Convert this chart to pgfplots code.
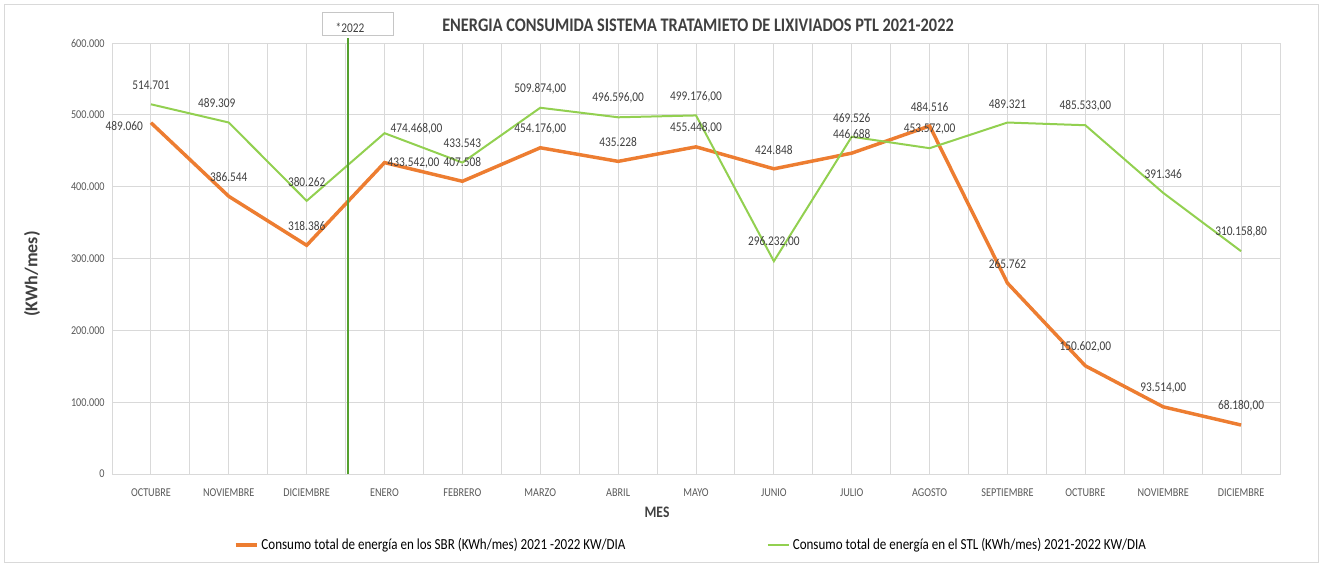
\documentclass[border=0pt]{standalone}
\usepackage{fontspec}
\setmainfont{Carlito}[FakeStretch=0.85]
\newfontfamily\plainfont{Carlito}
\usepackage{pgfplots}
\pgfplotsset{compat=1.18}
\usepackage{pgfplotstable}
\definecolor{sbr}{HTML}{ED7D31}
\definecolor{stl}{HTML}{92D050}
\definecolor{vline}{RGB}{84,160,46}
\definecolor{lab}{HTML}{404040}
\definecolor{tickc}{HTML}{595959}
\definecolor{gridc}{HTML}{D9D9D9}

\pgfplotstableread{
x sbr stl
0 489060 514701
1 386544 489309
2 318386 380262
3 433542 474468
4 407508 433543
5 454176 509874
6 435228 496596
7 455448 499176
8 424848 296232
9 446688 469526
10 484516 453572
11 265762 489321
12 150602 485533
13 93514 391346
14 68180 310158.8
}\datatable

\tikzset{lbl/.style={font=\fontsize{10}{12}\selectfont, text=lab, inner sep=0pt}}
\newcommand{\lb}[2]{\node[lbl,yshift=14.25pt] at (axis cs:#1) {#2};}

\begin{document}
\begin{tikzpicture}
\path[use as bounding box] (0,0) rectangle (993pt,-423.75pt);
\draw[gridc, line width=0.75pt] (3pt,-3pt) rectangle (988.5pt,-421.5pt);
\begin{axis}[
  at={(84pt,-355.5pt)}, anchor=south west,
  scale only axis, width=876pt, height=323.25pt,
  xmin=-0.5, xmax=14.5, ymin=0, ymax=600000,
  xtick={0,...,14}, minor xtick={-0.5,0.5,...,14.5},
  xticklabels={OCTUBRE,NOVIEMBRE,DICIEMBRE,ENERO,FEBRERO,MARZO,ABRIL,MAYO,JUNIO,JULIO,AGOSTO,SEPTIEMBRE,OCTUBRE,NOVIEMBRE,DICIEMBRE},
  ytick={0,100000,200000,300000,400000,500000,600000},
  yticklabels={0,100.000,200.000,300.000,400.000,500.000,600.000},
  scaled y ticks=false,
  xmajorgrids, xminorgrids, ymajorgrids,
  grid style={gridc, line width=0.75pt},
  minor grid style={gridc, line width=0.75pt},
  major tick length=0pt, minor tick length=0pt,
  axis line style={gridc, line width=0.75pt},
  x tick label style={font=\fontsize{9}{10}\selectfont, text=tickc, yshift=-7.5pt},
  y tick label style={font=\fontsize{9}{10}\selectfont, text=tickc, xshift=-2pt},
  clip=false,
  legend style={at={(0.496,-0.165)}, anchor=center, draw=none, fill=none,
    legend columns=2, font=\fontsize{11.5}{13}\selectfont, text=black,
    /tikz/every even column/.append style={column sep=104pt}},
  legend image code/.code={\draw[#1] (0pt,0pt) -- (16pt,0pt);},
]
\addplot[sbr, line width=2.6pt] table[x=x, y=sbr] {\datatable};
\addlegendentry{Consumo total de energía en los SBR (KWh/mes) 2021 -2022 KW/DIA}
\addplot[stl, line width=1.5pt] table[x=x, y=stl] {\datatable};
\addlegendentry{Consumo total de energía en el STL (KWh/mes) 2021-2022 KW/DIA}
\draw[vline, line width=1.5pt] (axis cs:2.53,0) -- (axis cs:2.53,607000);
% STL labels
\lb{0,514701}{514.701}
\node[lbl, xshift=-9pt, yshift=14.6pt] at (axis cs:1,489309) {489.309};
\lb{2,380262}{380.262}
\node[lbl, xshift=24pt, yshift=3pt] at (axis cs:3,474468) {474.468,00};
\lb{4,433543}{433.543}
\lb{5,509874}{509.874,00}
\lb{6,496596}{496.596,00}
\lb{7,499176}{499.176,00}
\lb{8,296232}{296.232,00}
\lb{9,469526}{469.526}
\lb{10,453572}{453.572,00}
\lb{11,489321}{489.321}
\lb{12,485533}{485.533,00}
\lb{13,391346}{391.346}
\lb{14,310158.8}{310.158,80}
% SBR labels
\node[lbl, xshift=-20pt, yshift=-2.25pt] at (axis cs:0,489060) {489.060};
\lb{1,386544}{386.544}
\lb{2,318386}{318.386}
\node[lbl, xshift=21.75pt] at (axis cs:3,433542) {433.542,00};
\lb{4,407508}{407.508}
\lb{5,454176}{454.176,00}
\lb{6,435228}{435.228}
\lb{7,455448}{455.448,00}
\lb{8,424848}{424.848}
\lb{9,446688}{446.688}
\lb{10,484516}{484.516}
\lb{11,265762}{265.762}
\lb{12,150602}{150.602,00}
\lb{13,93514}{93.514,00}
\lb{14,68180}{68.180,00}
\end{axis}
\begin{scope}[x=0.75pt,y=-0.75pt]
\node[font=\bfseries\fontsize{14.4}{16}\selectfont, text=lab] at (698,25) {ENERGIA CONSUMIDA SISTEMA TRATAMIETO DE LIXIVIADOS PTL 2021-2022};
\node[rotate=90, font=\plainfont\bfseries\fontsize{13.5}{15}\selectfont, text=lab] at (32,274) {(KWh/mes)};
\node[font=\bfseries\fontsize{12}{14}\selectfont, text=lab] at (657,512) {MES};
\draw[gray!45, line width=0.75pt] (322,12) rectangle (393,35);
\node[font=\fontsize{10}{12}\selectfont, text=lab] at (350,28) {*2022};
\end{scope}
\end{tikzpicture}
\end{document}
